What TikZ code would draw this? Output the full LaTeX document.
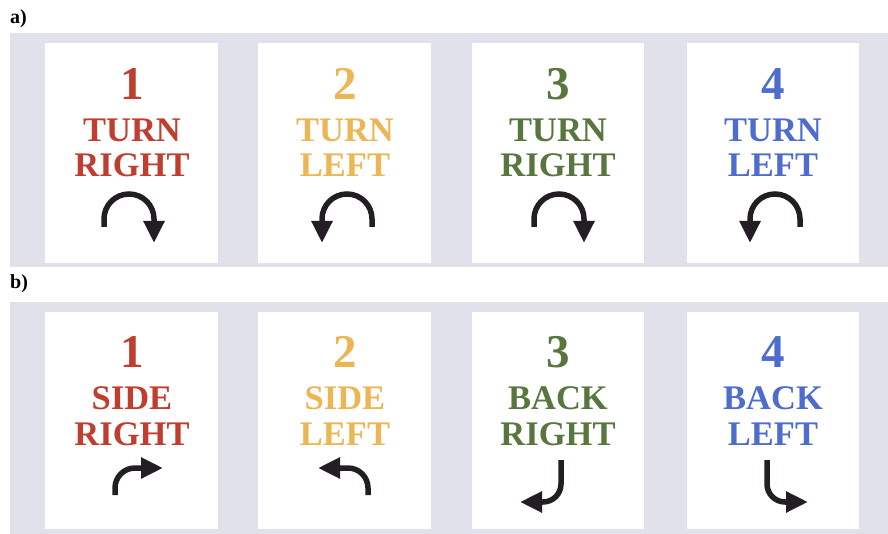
\documentclass[tikz,border=0pt]{standalone}
\usepackage{fontspec}
\setmainfont{Liberation Serif}
\usetikzlibrary{arrows.meta}
\definecolor{cred}{RGB}{192,62,48}
\definecolor{corange}{RGB}{236,182,84}
\definecolor{cgreen}{RGB}{88,118,62}
\definecolor{cblue}{RGB}{78,108,205}
\definecolor{bandgray}{RGB}{224,225,234}
\definecolor{arrowdark}{RGB}{35,30,35}
\begin{document}
\begin{tikzpicture}[x=1pt,y=-1pt,
  band/.style={fill=bandgray,draw=none},
  card/.style={fill=white,draw=none},
  num/.style={font=\fontsize{47}{47}\selectfont\bfseries,anchor=base,inner sep=0pt},
  word/.style={font=\fontsize{34.5}{34.5}\selectfont\bfseries,anchor=base,inner sep=0pt},
  icon/.style={line width=5.5pt,draw=arrowdark,-{Triangle[length=22pt,width=20pt]}},
  lab/.style={font=\fontsize{20}{20}\selectfont\bfseries,anchor=base west,inner sep=0pt}]
\useasboundingbox (0,0) rectangle (888,534);
\fill[white] (0,0) rectangle (888,534);
% bands
\fill[band] (10,33) rectangle (888,267);
\fill[band] (10,302) rectangle (888,534);
% cards row a
\fill[card] (45,43) rectangle (218,263);
\fill[card] (258,43) rectangle (431,263);
\fill[card] (472,43) rectangle (644,263);
\fill[card] (687,43) rectangle (859,263);
% cards row b
\fill[card] (45,312) rectangle (218,529);
\fill[card] (258,312) rectangle (431,529);
\fill[card] (472,312) rectangle (644,529);
\fill[card] (687,312) rectangle (859,529);
% labels
\node[lab] (la) at (10,24) {a)};
\node[lab] (lb) at (10,289) {b)};
% row a texts
\node[num,text=cred] (a1n) at (132,100) {1};
\node[word,text=cred] (a1w1) at (132,142) {TURN};
\node[word,text=cred] (a1w2) at (132,177) {RIGHT};
\node[num,text=corange] (a2n) at (345,100) {2};
\node[word,text=corange] (a2w1) at (345,142) {TURN};
\node[word,text=corange] (a2w2) at (345,177) {LEFT};
\node[num,text=cgreen] (a3n) at (558,100) {3};
\node[word,text=cgreen] (a3w1) at (558,142) {TURN};
\node[word,text=cgreen] (a3w2) at (558,177) {RIGHT};
\node[num,text=cblue] (a4n) at (773,100) {4};
\node[word,text=cblue] (a4w1) at (773,142) {TURN};
\node[word,text=cblue] (a4w2) at (773,177) {LEFT};
% row b texts
\node[num,text=cred] (b1n) at (132,367) {1};
\node[word,text=cred] (b1w1) at (132,409) {SIDE};
\node[word,text=cred] (b1w2) at (132,445) {RIGHT};
\node[num,text=corange] (b2n) at (345,367) {2};
\node[word,text=corange] (b2w1) at (345,409) {SIDE};
\node[word,text=corange] (b2w2) at (345,445) {LEFT};
\node[num,text=cgreen] (b3n) at (558,367) {3};
\node[word,text=cgreen] (b3w1) at (558,409) {BACK};
\node[word,text=cgreen] (b3w2) at (558,445) {RIGHT};
\node[num,text=cblue] (b4n) at (773,367) {4};
\node[word,text=cblue] (b4w1) at (773,409) {BACK};
\node[word,text=cblue] (b4w2) at (773,445) {LEFT};
% row a arrows
\draw[icon] (104,227) -- (104,219) arc[start angle=180,end angle=360,radius=25] -- (154,243);
\draw[icon] (372,227) -- (372,219) arc[start angle=0,end angle=-180,radius=25] -- (322,243);
\draw[icon] (534,227) -- (534,219) arc[start angle=180,end angle=360,radius=25] -- (584,243);
\draw[icon] (800,227) -- (800,219) arc[start angle=0,end angle=-180,radius=25] -- (750,243);
% row b arrows
\draw[icon] (115,495) -- (115,488) arc[start angle=180,end angle=270,radius=20] -- (163,468);
\draw[icon] (368,495) -- (368,488) arc[start angle=0,end angle=-90,radius=20] -- (318,468);
\draw[icon] (561,460) -- (561,484) arc[start angle=0,end angle=90,radius=18] -- (520,502);
\draw[icon] (767,460) -- (767,484) arc[start angle=180,end angle=90,radius=18] -- (808,502);
\end{tikzpicture}
\end{document}
